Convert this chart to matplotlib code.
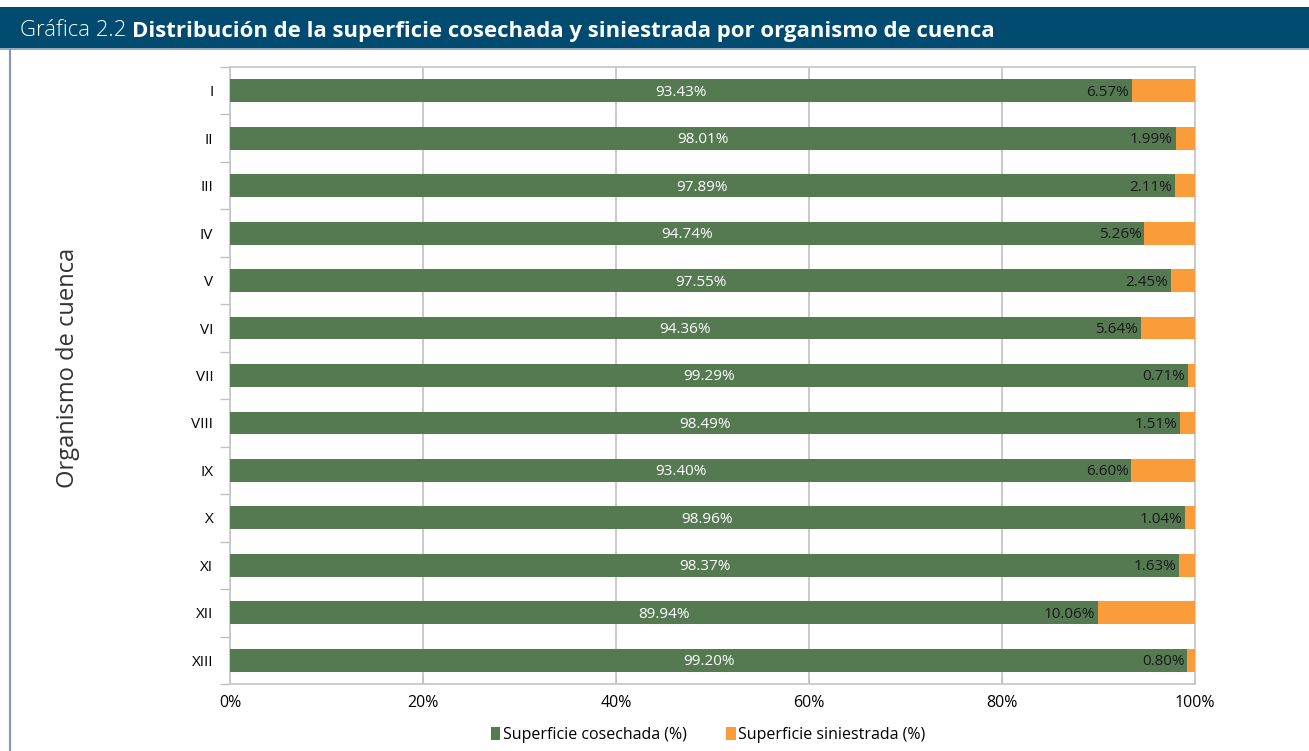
import matplotlib
matplotlib.use("Agg")
import matplotlib.pyplot as plt
from matplotlib.patches import Rectangle
from matplotlib.lines import Line2D

categories = ["I", "II", "III", "IV", "V", "VI", "VII", "VIII", "IX", "X", "XI", "XII", "XIII"]
cosechada = [93.43, 98.01, 97.89, 94.74, 97.55, 94.36, 99.29, 98.49, 93.40, 98.96, 98.37, 89.94, 99.20]
siniestrada = [6.57, 1.99, 2.11, 5.26, 2.45, 5.64, 0.71, 1.51, 6.60, 1.04, 1.63, 10.06, 0.80]
xticks = [0, 20, 40, 60, 80, 100]
xticklabels = ["0%", "20%", "40%", "60%", "80%", "100%"]
series_names = ["Superficie cosechada (%)", "Superficie siniestrada (%)"]

plt.rcParams['font.family'] = ['Open Sans', 'DejaVu Sans']

W, H = 1309, 751
fig = plt.figure(figsize=(W / 100, H / 100), dpi=100)

# Title bar
fig.patches.append(Rectangle((0, 1 - 49 / H), 1, 42 / H, transform=fig.transFigure,
                             facecolor="#004b6f", edgecolor="none", zorder=0))
fig.patches.append(Rectangle((0, 1 - 50 / H), 1, 1.5 / H, transform=fig.transFigure,
                             facecolor="#9aa9c2", edgecolor="none", zorder=1))
fig.lines.append(Line2D([10 / W, 10 / W], [0, 1 - 50 / H], transform=fig.transFigure,
                        color="#8096bb", lw=1.5))
t1 = fig.text(20 / W, 1 - 31 / H, "Gráfica 2.2 ", color="white", fontsize=15.9, va="center",
              ha="left", fontweight="light")
fig.canvas.draw()
bb = t1.get_window_extent()
fig.text(bb.x1 / W, 1 - 31 / H, "Distribución de la superficie cosechada y siniestrada por organismo de cuenca",
         color="white", fontsize=15.9, va="center", ha="left", fontweight="bold")

# Axes
x0, x1 = 230, 1195
y0, y1 = 67, 684
ax = fig.add_axes([x0 / W, 1 - y1 / H, (x1 - x0) / W, (y1 - y0) / H])

green = "#557a52"
orange = "#fb9c3b"
pos = list(range(len(categories)))
ax.barh(pos, cosechada, height=0.48, color=green, label=series_names[0], zorder=3)
ax.barh(pos, siniestrada, left=cosechada, height=0.48, color=orange, label=series_names[1], zorder=3)

for i in pos:
    ax.text(cosechada[i] / 2, i + 0.03, f"{cosechada[i]:.2f}%", ha="center", va="center",
            color="white", fontsize=11, zorder=4)
    ax.text(cosechada[i] - 0.3, i + 0.03, f"{siniestrada[i]:.2f}%", ha="right", va="center",
            color="#1a1a1a", fontsize=11, zorder=4)

ax.set_xlim(0, 100)
ax.set_ylim(len(categories) - 0.5, -0.5)
ax.set_xticks(xticks)
ax.set_xticklabels(xticklabels, fontsize=11.5)
ax.set_yticks(pos)
ax.set_yticklabels(categories, fontsize=11)
ax.set_yticks([p + 0.5 for p in range(-1, len(categories))], minor=True)
ax.tick_params(axis="y", which="major", length=0, pad=12)
ax.tick_params(axis="y", which="minor", length=7, color="#bfbfbf", width=1)
ax.tick_params(axis="x", which="major", length=5, color="#bfbfbf", pad=8, direction="in")
ax.xaxis.grid(True, color="#c0c0c0", lw=1.2, zorder=0)
for s in ax.spines.values():
    s.set_color("#c8c8c8")
    s.set_linewidth(1.3)

fig.text(68 / W, 1 - 368 / H, "Organismo de cuenca", rotation=90, ha="center", va="center",
         fontsize=17, color="#333333")

fig.legend(loc="center", bbox_to_anchor=(0.541, 1 - 735 / H), ncol=2, frameon=False,
           fontsize=11.5, handlelength=0.6, handleheight=0.9, handletextpad=0.15,
           columnspacing=2.5)

fig.savefig("out.png", dpi=100)
